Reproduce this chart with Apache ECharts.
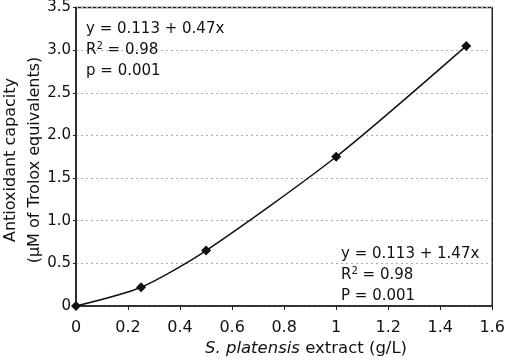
<!DOCTYPE html>
<html>
<head>
<meta charset="utf-8">
<script src="https://cdn.jsdelivr.net/npm/echarts@6/dist/echarts.min.js"></script>
<style>
html,body{margin:0;padding:0;background:#fff;}
#chart{width:508px;height:360px;}
</style>
</head>
<body>
<div id="chart"></div>
<script>
var xValues = [0, 0.25, 0.5, 1.0, 1.5];
var yValues = [0, 0.22, 0.65, 1.75, 3.05];
var yAxisTitle1 = 'Antioxidant capacity';
var yAxisTitle2 = '(\u03BCM of Trolox equivalents)';
var topEq = ['y = 0.113 + 0.47x', '0.98', 'p = 0.001'];
var botEq = ['y = 0.113 + 1.47x', '0.98', 'P = 0.001'];

var FONT = 'DejaVu Sans';
var chart = echarts.init(document.getElementById('chart'));
var pts = xValues.map(function (x, i) { return [x, yValues[i]]; });

function eqText(lines, x, y) {
  return {
    type: 'text', left: x, top: y, z: 10,
    style: {
      text: '{a|' + lines[0] + '}\n{a|R}{s|2}{a| = ' + lines[1] + '}\n{a|' + lines[2] + '}',
      rich: {
        a: { fontFamily: FONT, fontSize: 15, fill: '#111', lineHeight: 21 },
        s: { fontFamily: FONT, fontSize: 10, fill: '#111', lineHeight: 21, padding: [0, 0, 8, 0] }
      },
      fill: '#111'
    }
  };
}

chart.setOption({
  animation: false,
  backgroundColor: '#fff',
  grid: { left: 76, right: 12, top: 7, bottom: 54, show: true, borderColor: '#222', borderWidth: 1.5 },
  xAxis: {
    type: 'value', min: 0, max: 1.6, interval: 0.2,
    axisLine: { show: true, onZero: false, lineStyle: { color: '#222', width: 1.5 } },
    axisTick: { show: true, length: 4, lineStyle: { color: '#222' } },
    splitLine: { show: false },
    axisLabel: { fontFamily: FONT, fontSize: 16, color: '#111', margin: 14,
      formatter: function (v) { return (v === 0 || v === 1) ? String(v) : v.toFixed(1); } }
  },
  yAxis: {
    type: 'value', min: 0, max: 3.5, interval: 0.5,
    axisLine: { show: true, lineStyle: { color: '#222', width: 1.5 } },
    axisTick: { show: true, length: 3, lineStyle: { color: '#222' } },
    splitLine: { show: true, lineStyle: { color: '#aaa', type: [2, 3], width: 1 } },
    axisLabel: { fontFamily: FONT, fontSize: 15, color: '#111', margin: 5,
      formatter: function (v) { return v === 0 ? '0' : v.toFixed(1); } }
  },
  series: [{
    type: 'line', data: pts, smooth: 0.25,
    symbol: 'diamond', symbolSize: 10,
    itemStyle: { color: '#111' },
    lineStyle: { color: '#111', width: 1.5 },
    clip: false
  }],
  graphic: [
    eqText(topEq, 86, 22),
    eqText(botEq, 341, 247),
    { type: 'text', x: 11, y: 160, rotation: Math.PI / 2,
      style: { text: yAxisTitle1, fontFamily: FONT, fontSize: 16, fill: '#111', align: 'center', verticalAlign: 'middle' } },
    { type: 'text', x: 35, y: 160, rotation: Math.PI / 2,
      style: { text: yAxisTitle2, fontFamily: FONT, fontSize: 16, fill: '#111', align: 'center', verticalAlign: 'middle' } },
    { type: 'text', x: 306, y: 349,
      style: {
        text: '{i|S. platensis}{n| extract (g/L)}',
        align: 'center', verticalAlign: 'middle',
        rich: {
          i: { fontFamily: FONT, fontSize: 16.5, fontStyle: 'italic', fill: '#111' },
          n: { fontFamily: FONT, fontSize: 16.5, fill: '#111' }
        }
      } }
  ]
});
</script>
</body>
</html>
